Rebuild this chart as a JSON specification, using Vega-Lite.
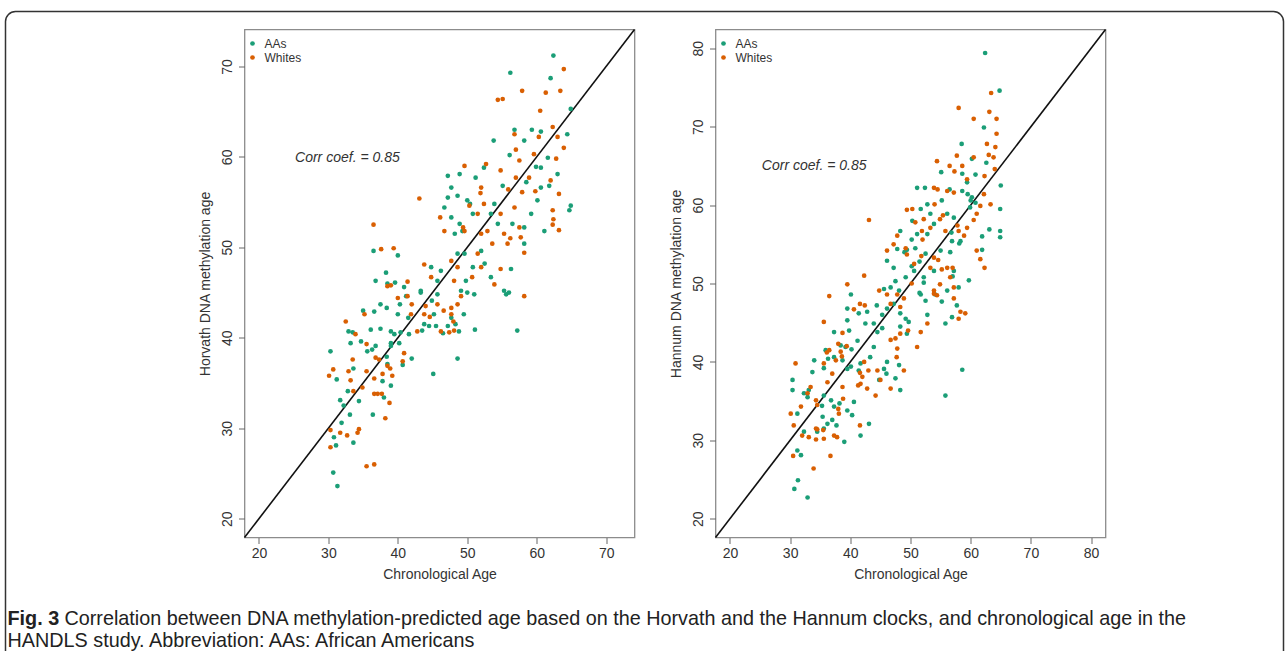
{
  "$schema": "https://vega.github.io/schema/vega-lite/v6.json",
  "background": "white",
  "padding": {"left": 4.5, "top": 10.5, "right": 4, "bottom": 0},
  "config": {
    "font": "Liberation Sans",
    "view": {"stroke": "#8c8c8c", "strokeWidth": 1.3},
    "axis": {"grid": false, "domain": false, "tickColor": "#666", "tickSize": 6, "labelFontSize": 14, "titleFontSize": 14, "labelColor": "#333", "titleColor": "#333", "titleFontWeight": "normal", "labelPadding": 3, "titlePadding": 7},
    "legend": {"orient": "none", "legendX": 2, "legendY": 8, "padding": 0, "labelFontSize": 12, "symbolSize": 22, "symbolType": "circle", "rowPadding": 2, "labelOffset": 6, "labelColor": "#333", "symbolStrokeWidth": 0}
  },
  "datasets": {
    "horvath": [
      {"g":"AAs","x":62.4,"y":71.2},{"g":"AAs","x":56.2,"y":69.3},{"g":"AAs","x":62.0,"y":68.7},{"g":"AAs","x":64.9,"y":65.3},{"g":"AAs","x":53.8,"y":61.8},{"g":"AAs","x":56.8,"y":63.0},{"g":"AAs","x":59.3,"y":63.0},{"g":"AAs","x":60.6,"y":62.8},{"g":"AAs","x":64.4,"y":62.5},{"g":"AAs","x":56.1,"y":60.2},{"g":"AAs","x":58.2,"y":61.8},{"g":"AAs","x":60.6,"y":58.8},{"g":"AAs","x":61.6,"y":59.9},{"g":"AAs","x":63.0,"y":58.1},{"g":"AAs","x":64.9,"y":54.6},{"g":"AAs","x":64.7,"y":54.1},{"g":"AAs","x":47.2,"y":57.9},{"g":"AAs","x":48.9,"y":58.1},{"g":"AAs","x":52.4,"y":58.8},{"g":"AAs","x":51.2,"y":57.7},{"g":"AAs","x":47.7,"y":56.6},{"g":"AAs","x":48.6,"y":55.7},{"g":"AAs","x":47.2,"y":55.5},{"g":"AAs","x":46.7,"y":54.4},{"g":"AAs","x":50.0,"y":55.2},{"g":"AAs","x":50.8,"y":53.7},{"g":"AAs","x":53.4,"y":53.7},{"g":"AAs","x":54.4,"y":52.6},{"g":"AAs","x":56.5,"y":52.6},{"g":"AAs","x":58.2,"y":52.2},{"g":"AAs","x":61.1,"y":51.8},{"g":"AAs","x":59.2,"y":53.7},{"g":"AAs","x":60.1,"y":55.2},{"g":"AAs","x":60.6,"y":56.6},{"g":"AAs","x":61.8,"y":56.8},{"g":"AAs","x":47.7,"y":53.3},{"g":"AAs","x":48.2,"y":51.5},{"g":"AAs","x":49.3,"y":51.8},{"g":"AAs","x":48.6,"y":49.3},{"g":"AAs","x":49.6,"y":49.3},{"g":"AAs","x":52.0,"y":49.6},{"g":"AAs","x":52.5,"y":48.2},{"g":"AAs","x":50.8,"y":47.8},{"g":"AAs","x":49.8,"y":46.3},{"g":"AAs","x":49.1,"y":45.2},{"g":"AAs","x":53.4,"y":46.7},{"g":"AAs","x":55.3,"y":45.2},{"g":"AAs","x":56.3,"y":47.6},{"g":"AAs","x":55.6,"y":44.8},{"g":"AAs","x":44.8,"y":47.8},{"g":"AAs","x":46.2,"y":47.4},{"g":"AAs","x":45.7,"y":46.3},{"g":"AAs","x":43.3,"y":45.2},{"g":"AAs","x":40.9,"y":45.6},{"g":"AAs","x":40.0,"y":49.1},{"g":"AAs","x":38.3,"y":47.2},{"g":"AAs","x":36.8,"y":46.3},{"g":"AAs","x":36.5,"y":49.6},
      {"g":"AAs","x":43.3,"y":45.0},{"g":"AAs","x":50.0,"y":45.0},{"g":"AAs","x":51.0,"y":44.8},{"g":"AAs","x":56.0,"y":45.0},{"g":"AAs","x":57.2,"y":40.8},{"g":"AAs","x":51.1,"y":40.9},{"g":"AAs","x":35.0,"y":43.0},{"g":"AAs","x":36.6,"y":42.9},{"g":"AAs","x":37.5,"y":43.7},{"g":"AAs","x":38.4,"y":43.3},{"g":"AAs","x":40.0,"y":42.6},{"g":"AAs","x":40.3,"y":43.7},{"g":"AAs","x":41.5,"y":42.2},{"g":"AAs","x":43.8,"y":41.5},{"g":"AAs","x":44.5,"y":41.3},{"g":"AAs","x":45.2,"y":42.6},{"g":"AAs","x":45.5,"y":41.3},{"g":"AAs","x":47.2,"y":41.3},{"g":"AAs","x":48.3,"y":41.5},{"g":"AAs","x":48.8,"y":40.7},{"g":"AAs","x":47.7,"y":42.2},{"g":"AAs","x":49.5,"y":42.6},{"g":"AAs","x":36.1,"y":40.9},{"g":"AAs","x":36.8,"y":39.1},{"g":"AAs","x":39.0,"y":40.7},{"g":"AAs","x":39.5,"y":40.4},{"g":"AAs","x":40.4,"y":40.6},{"g":"AAs","x":40.2,"y":39.4},{"g":"AAs","x":41.6,"y":40.4},{"g":"AAs","x":39.0,"y":39.4},{"g":"AAs","x":35.6,"y":38.5},{"g":"AAs","x":33.2,"y":39.4},{"g":"AAs","x":34.7,"y":39.6},{"g":"AAs","x":32.9,"y":40.7},{"g":"AAs","x":30.3,"y":38.5},{"g":"AAs","x":31.2,"y":35.4},{"g":"AAs","x":33.6,"y":36.6},{"g":"AAs","x":32.8,"y":34.1},{"g":"AAs","x":31.7,"y":33.1},{"g":"AAs","x":32.2,"y":32.5},{"g":"AAs","x":34.4,"y":33.0},{"g":"AAs","x":36.4,"y":31.5},{"g":"AAs","x":38.0,"y":33.4},{"g":"AAs","x":39.0,"y":34.7},{"g":"AAs","x":37.8,"y":35.2},{"g":"AAs","x":42.0,"y":37.7},{"g":"AAs","x":45.1,"y":36.0},{"g":"AAs","x":48.6,"y":37.7},{"g":"AAs","x":33.1,"y":31.5},{"g":"AAs","x":31.9,"y":30.6},{"g":"AAs","x":30.8,"y":29.0},{"g":"AAs","x":33.6,"y":28.4},{"g":"AAs","x":31.1,"y":28.1},{"g":"AAs","x":30.7,"y":25.1},{"g":"AAs","x":31.3,"y":23.6},{"g":"AAs","x":38.5,"y":37.1},{"g":"AAs","x":39.0,"y":39.1},{"g":"AAs","x":44.9,"y":44.1},{"g":"AAs","x":45.7,"y":44.8},
      {"g":"AAs","x":55.1,"y":56.8},{"g":"AAs","x":58.5,"y":57.2},{"g":"AAs","x":50.4,"y":54.8},{"g":"AAs","x":53.9,"y":54.8},{"g":"AAs","x":48.9,"y":52.6},{"g":"AAs","x":58.2,"y":50.4},
      {"g":"AAs","x":38.5,"y":46.0},{"g":"AAs","x":39.6,"y":46.1},{"g":"AAs","x":41.2,"y":44.6},{"g":"AAs","x":33.5,"y":40.6},{"g":"AAs","x":37.5,"y":41.0},{"g":"AAs","x":36.3,"y":38.7},{"g":"AAs","x":38.4,"y":37.9},{"g":"AAs","x":40.7,"y":37.0},{"g":"AAs","x":43.5,"y":40.8},{"g":"AAs","x":46.5,"y":40.5},{"g":"AAs","x":59.9,"y":58.9},
      {"g":"Whites","x":63.9,"y":69.7},{"g":"Whites","x":63.4,"y":67.3},{"g":"Whites","x":57.9,"y":67.3},{"g":"Whites","x":61.3,"y":67.1},{"g":"Whites","x":54.4,"y":66.3},{"g":"Whites","x":55.1,"y":66.4},{"g":"Whites","x":60.5,"y":65.1},{"g":"Whites","x":62.3,"y":63.3},{"g":"Whites","x":63.0,"y":62.2},{"g":"Whites","x":56.8,"y":62.5},{"g":"Whites","x":63.9,"y":61.0},{"g":"Whites","x":57.5,"y":59.6},{"g":"Whites","x":59.6,"y":60.3},{"g":"Whites","x":49.6,"y":59.0},{"g":"Whites","x":52.7,"y":59.2},{"g":"Whites","x":54.8,"y":58.5},{"g":"Whites","x":57.0,"y":57.7},{"g":"Whites","x":58.9,"y":57.7},{"g":"Whites","x":62.0,"y":57.4},{"g":"Whites","x":52.0,"y":56.6},{"g":"Whites","x":55.9,"y":56.4},{"g":"Whites","x":57.9,"y":56.1},{"g":"Whites","x":59.8,"y":56.2},{"g":"Whites","x":63.2,"y":55.9},{"g":"Whites","x":50.3,"y":54.6},{"g":"Whites","x":52.4,"y":54.8},{"g":"Whites","x":54.8,"y":53.7},{"g":"Whites","x":56.8,"y":54.4},{"g":"Whites","x":62.3,"y":54.1},{"g":"Whites","x":62.4,"y":53.1},{"g":"Whites","x":63.2,"y":51.9},{"g":"Whites","x":57.5,"y":52.2},{"g":"Whites","x":43.1,"y":55.4},{"g":"Whites","x":36.5,"y":52.5},{"g":"Whites","x":37.6,"y":49.8},{"g":"Whites","x":39.4,"y":49.9},{"g":"Whites","x":46.1,"y":53.3},{"g":"Whites","x":46.7,"y":51.8},{"g":"Whites","x":49.6,"y":51.8},{"g":"Whites","x":52.0,"y":51.5},{"g":"Whites","x":52.9,"y":51.8},{"g":"Whites","x":53.6,"y":50.4},{"g":"Whites","x":55.3,"y":51.5},{"g":"Whites","x":57.7,"y":51.1},{"g":"Whites","x":58.2,"y":49.4},{"g":"Whites","x":51.5,"y":49.3},{"g":"Whites","x":47.7,"y":48.5},{"g":"Whites","x":48.6,"y":47.8},{"g":"Whites","x":50.7,"y":46.7},{"g":"Whites","x":52.0,"y":47.8},{"g":"Whites","x":53.9,"y":45.9},{"g":"Whites","x":54.8,"y":47.6},{"g":"Whites","x":43.8,"y":48.1},{"g":"Whites","x":44.8,"y":46.7},{"g":"Whites","x":41.4,"y":46.2},{"g":"Whites","x":39.0,"y":45.8},{"g":"Whites","x":48.1,"y":46.3},{"g":"Whites","x":58.2,"y":44.6},
      {"g":"Whites","x":32.5,"y":41.8},{"g":"Whites","x":33.9,"y":40.4},{"g":"Whites","x":35.2,"y":42.6},{"g":"Whites","x":30.1,"y":35.8},{"g":"Whites","x":30.7,"y":36.5},{"g":"Whites","x":32.9,"y":36.3},{"g":"Whites","x":33.2,"y":35.3},{"g":"Whites","x":33.5,"y":37.6},{"g":"Whites","x":33.6,"y":34.1},{"g":"Whites","x":34.9,"y":34.5},{"g":"Whites","x":35.5,"y":36.3},{"g":"Whites","x":35.5,"y":39.3},{"g":"Whites","x":36.8,"y":37.8},{"g":"Whites","x":37.3,"y":37.6},{"g":"Whites","x":36.6,"y":33.8},{"g":"Whites","x":37.1,"y":33.8},{"g":"Whites","x":37.7,"y":33.8},{"g":"Whites","x":37.8,"y":36.0},{"g":"Whites","x":38.5,"y":36.9},{"g":"Whites","x":38.9,"y":36.6},{"g":"Whites","x":39.2,"y":35.8},{"g":"Whites","x":38.8,"y":32.8},{"g":"Whites","x":38.2,"y":31.1},{"g":"Whites","x":30.3,"y":29.8},{"g":"Whites","x":31.7,"y":29.5},{"g":"Whites","x":32.7,"y":29.2},{"g":"Whites","x":34.2,"y":29.5},{"g":"Whites","x":34.4,"y":29.9},{"g":"Whites","x":30.3,"y":27.9},{"g":"Whites","x":35.5,"y":25.8},{"g":"Whites","x":36.6,"y":26.0},{"g":"Whites","x":40.9,"y":38.3},{"g":"Whites","x":40.7,"y":37.4},{"g":"Whites","x":41.4,"y":44.6},{"g":"Whites","x":42.0,"y":43.7},{"g":"Whites","x":41.9,"y":42.6},{"g":"Whites","x":42.8,"y":40.7},{"g":"Whites","x":44.0,"y":43.5},{"g":"Whites","x":45.7,"y":43.7},{"g":"Whites","x":46.2,"y":40.7},{"g":"Whites","x":47.4,"y":40.6},{"g":"Whites","x":47.7,"y":43.3},{"g":"Whites","x":47.7,"y":42.6},{"g":"Whites","x":48.6,"y":43.7},{"g":"Whites","x":49.1,"y":44.6},{"g":"Whites","x":48.1,"y":40.8},{"g":"Whites","x":43.8,"y":42.6},{"g":"Whites","x":40.0,"y":44.4},{"g":"Whites","x":38.5,"y":45.7},
      {"g":"Whites","x":51.9,"y":56.0},{"g":"Whites","x":51.5,"y":53.7},{"g":"Whites","x":49.4,"y":52.2},{"g":"Whites","x":56.2,"y":51.0},{"g":"Whites","x":55.8,"y":50.4},{"g":"Whites","x":62.3,"y":52.5},
      {"g":"Whites","x":36.6,"y":35.5},{"g":"Whites","x":44.6,"y":42.3},{"g":"Whites","x":46.6,"y":43.0},{"g":"Whites","x":48.0,"y":41.8},{"g":"Whites","x":60.3,"y":62.2},{"g":"Whites","x":57.0,"y":60.8},{"g":"Whites","x":62.8,"y":59.8}
    ],
    "hannum": [
      {"g":"AAs","x":62.4,"y":79.4},{"g":"AAs","x":64.8,"y":74.6},{"g":"AAs","x":62.2,"y":69.9},{"g":"AAs","x":58.5,"y":67.8},{"g":"AAs","x":62.6,"y":65.4},{"g":"AAs","x":65.0,"y":62.5},{"g":"AAs","x":60.2,"y":65.9},{"g":"AAs","x":58.6,"y":64.0},{"g":"AAs","x":59.4,"y":62.9},{"g":"AAs","x":60.8,"y":63.9},{"g":"AAs","x":51.1,"y":62.2},{"g":"AAs","x":52.4,"y":62.2},{"g":"AAs","x":55.1,"y":64.2},{"g":"AAs","x":58.6,"y":61.8},{"g":"AAs","x":60.2,"y":61.0},{"g":"AAs","x":60.8,"y":60.3},{"g":"AAs","x":59.9,"y":59.7},{"g":"AAs","x":64.9,"y":59.5},{"g":"AAs","x":64.9,"y":56.7},{"g":"AAs","x":64.9,"y":55.9},{"g":"AAs","x":63.1,"y":56.9},{"g":"AAs","x":61.9,"y":56.0},{"g":"AAs","x":61.9,"y":54.3},{"g":"AAs","x":55.2,"y":60.6},{"g":"AAs","x":51.7,"y":59.5},{"g":"AAs","x":52.8,"y":60.1},{"g":"AAs","x":50.3,"y":58.0},{"g":"AAs","x":52.8,"y":56.3},{"g":"AAs","x":51.1,"y":56.3},{"g":"AAs","x":53.9,"y":57.6},{"g":"AAs","x":56.1,"y":58.9},{"g":"AAs","x":57.2,"y":58.4},{"g":"AAs","x":56.9,"y":55.4},{"g":"AAs","x":58.3,"y":55.4},{"g":"AAs","x":48.3,"y":56.7},{"g":"AAs","x":47.8,"y":54.4},{"g":"AAs","x":49.4,"y":54.3},{"g":"AAs","x":50.8,"y":54.5},{"g":"AAs","x":46.1,"y":52.9},{"g":"AAs","x":47.2,"y":52.0},{"g":"AAs","x":49.2,"y":50.8},{"g":"AAs","x":50.6,"y":51.6},{"g":"AAs","x":52.2,"y":50.8},{"g":"AAs","x":53.9,"y":51.6},{"g":"AAs","x":57.2,"y":51.6},{"g":"AAs","x":59.7,"y":50.4},{"g":"AAs","x":56.1,"y":49.1},{"g":"AAs","x":58.0,"y":49.5},{"g":"AAs","x":47.5,"y":50.3},{"g":"AAs","x":46.7,"y":49.5},{"g":"AAs","x":48.1,"y":49.1},{"g":"AAs","x":45.6,"y":49.3},{"g":"AAs","x":40.1,"y":48.6},{"g":"AAs","x":51.7,"y":48.6},{"g":"AAs","x":54.1,"y":48.6},
      {"g":"AAs","x":39.5,"y":46.8},{"g":"AAs","x":39.5,"y":45.3},{"g":"AAs","x":39.8,"y":44.0},{"g":"AAs","x":41.4,"y":46.2},{"g":"AAs","x":42.8,"y":46.4},{"g":"AAs","x":42.5,"y":44.9},{"g":"AAs","x":43.9,"y":44.9},{"g":"AAs","x":44.5,"y":43.8},{"g":"AAs","x":45.3,"y":46.0},{"g":"AAs","x":45.3,"y":44.3},{"g":"AAs","x":46.1,"y":46.8},{"g":"AAs","x":47.2,"y":47.4},{"g":"AAs","x":48.3,"y":46.2},{"g":"AAs","x":49.2,"y":45.5},{"g":"AAs","x":49.7,"y":45.1},{"g":"AAs","x":48.3,"y":44.5},{"g":"AAs","x":49.4,"y":43.6},{"g":"AAs","x":51.5,"y":48.8},{"g":"AAs","x":52.8,"y":46.0},{"g":"AAs","x":55.2,"y":47.7},{"g":"AAs","x":55.8,"y":44.9},{"g":"AAs","x":56.9,"y":45.7},{"g":"AAs","x":57.7,"y":47.2},{"g":"AAs","x":58.6,"y":39.0},{"g":"AAs","x":55.8,"y":35.7},{"g":"AAs","x":37.3,"y":43.8},{"g":"AAs","x":35.9,"y":41.5},{"g":"AAs","x":37.3,"y":40.6},{"g":"AAs","x":38.4,"y":42.1},{"g":"AAs","x":39.2,"y":41.9},{"g":"AAs","x":38.7,"y":40.2},{"g":"AAs","x":39.5,"y":39.1},{"g":"AAs","x":40.1,"y":39.4},{"g":"AAs","x":41.4,"y":38.9},{"g":"AAs","x":41.7,"y":39.8},{"g":"AAs","x":43.3,"y":40.6},{"g":"AAs","x":43.9,"y":41.9},{"g":"AAs","x":45.6,"y":39.1},{"g":"AAs","x":46.1,"y":40.0},{"g":"AAs","x":48.1,"y":39.6},{"g":"AAs","x":48.3,"y":36.4},{"g":"AAs","x":44.8,"y":37.7},{"g":"AAs","x":34.0,"y":40.2},{"g":"AAs","x":35.6,"y":39.2},{"g":"AAs","x":30.4,"y":36.4},{"g":"AAs","x":32.3,"y":36.0},{"g":"AAs","x":33.1,"y":36.4},{"g":"AAs","x":35.6,"y":35.7},{"g":"AAs","x":36.8,"y":35.1},{"g":"AAs","x":37.3,"y":34.3},{"g":"AAs","x":38.2,"y":34.7},{"g":"AAs","x":39.5,"y":33.8},{"g":"AAs","x":39.0,"y":29.8},{"g":"AAs","x":40.3,"y":33.2},{"g":"AAs","x":41.7,"y":30.6},{"g":"AAs","x":43.1,"y":32.1},{"g":"AAs","x":35.4,"y":33.0},{"g":"AAs","x":36.2,"y":32.1},{"g":"AAs","x":37.0,"y":32.6},{"g":"AAs","x":35.6,"y":31.5},{"g":"AAs","x":34.5,"y":31.1},{"g":"AAs","x":32.3,"y":31.1},{"g":"AAs","x":31.2,"y":33.4},{"g":"AAs","x":32.9,"y":35.5},{"g":"AAs","x":33.7,"y":38.7},{"g":"AAs","x":30.4,"y":37.7},{"g":"AAs","x":31.2,"y":28.7},{"g":"AAs","x":31.8,"y":28.1},{"g":"AAs","x":31.3,"y":24.9},{"g":"AAs","x":30.7,"y":23.8},{"g":"AAs","x":32.9,"y":22.7},
      {"g":"AAs","x":56.5,"y":62.0},{"g":"AAs","x":60.0,"y":60.6},{"g":"AAs","x":59.5,"y":61.4},{"g":"AAs","x":53.3,"y":58.9},{"g":"AAs","x":50.2,"y":55.6},{"g":"AAs","x":56.8,"y":56.5},{"g":"AAs","x":58.1,"y":55.1},{"g":"AAs","x":49.0,"y":54.0},{"g":"AAs","x":51.5,"y":52.8},{"g":"AAs","x":52.5,"y":53.8},{"g":"AAs","x":50.2,"y":52.2},{"g":"AAs","x":55.0,"y":54.2},{"g":"AAs","x":56.6,"y":54.0},{"g":"AAs","x":57.0,"y":50.9},{"g":"AAs","x":52.2,"y":50.1},{"g":"AAs","x":44.4,"y":47.2},{"g":"AAs","x":41.2,"y":42.7},{"g":"AAs","x":40.2,"y":41.6},{"g":"AAs","x":36.3,"y":40.4},{"g":"AAs","x":46.0,"y":38.5},{"g":"AAs","x":47.5,"y":37.9},{"g":"AAs","x":52.5,"y":47.8},{"g":"AAs","x":35.3,"y":34.4},{"g":"AAs","x":37.7,"y":31.9},{"g":"AAs","x":40.6,"y":34.9},
      {"g":"Whites","x":63.4,"y":74.3},{"g":"Whites","x":58.0,"y":72.4},{"g":"Whites","x":63.1,"y":71.9},{"g":"Whites","x":60.5,"y":71.0},{"g":"Whites","x":64.3,"y":71.0},{"g":"Whites","x":64.3,"y":69.1},{"g":"Whites","x":62.7,"y":67.8},{"g":"Whites","x":64.1,"y":67.4},{"g":"Whites","x":63.0,"y":66.4},{"g":"Whites","x":63.8,"y":66.1},{"g":"Whites","x":57.7,"y":66.3},{"g":"Whites","x":54.4,"y":65.6},{"g":"Whites","x":56.5,"y":65.0},{"g":"Whites","x":58.6,"y":65.0},{"g":"Whites","x":60.5,"y":66.1},{"g":"Whites","x":62.3,"y":63.7},{"g":"Whites","x":64.0,"y":64.6},{"g":"Whites","x":54.5,"y":62.0},{"g":"Whites","x":56.1,"y":61.8},{"g":"Whites","x":57.2,"y":61.6},{"g":"Whites","x":54.0,"y":60.1},{"g":"Whites","x":49.4,"y":59.4},{"g":"Whites","x":50.3,"y":59.5},{"g":"Whites","x":62.2,"y":61.4},{"g":"Whites","x":63.3,"y":60.1},{"g":"Whites","x":61.0,"y":58.9},{"g":"Whites","x":60.5,"y":58.1},{"g":"Whites","x":43.1,"y":58.1},{"g":"Whites","x":52.2,"y":58.2},{"g":"Whites","x":54.9,"y":58.2},{"g":"Whites","x":53.3,"y":57.1},{"g":"Whites","x":55.8,"y":56.7},{"g":"Whites","x":58.0,"y":56.7},{"g":"Whites","x":59.4,"y":57.1},{"g":"Whites","x":51.9,"y":56.7},{"g":"Whites","x":47.8,"y":56.1},{"g":"Whites","x":61.0,"y":54.2},{"g":"Whites","x":61.6,"y":53.1},{"g":"Whites","x":62.3,"y":52.0},{"g":"Whites","x":47.2,"y":55.0},{"g":"Whites","x":49.4,"y":53.7},{"g":"Whites","x":50.6,"y":52.5},{"g":"Whites","x":46.1,"y":54.2},{"g":"Whites","x":53.9,"y":53.3},{"g":"Whites","x":53.3,"y":52.0},{"g":"Whites","x":56.1,"y":52.0},{"g":"Whites","x":54.9,"y":49.9},{"g":"Whites","x":56.6,"y":50.8},{"g":"Whites","x":53.9,"y":49.1},{"g":"Whites","x":57.2,"y":49.5},{"g":"Whites","x":42.3,"y":51.0},{"g":"Whites","x":39.5,"y":49.9},{"g":"Whites","x":44.8,"y":49.1},{"g":"Whites","x":46.1,"y":48.6},{"g":"Whites","x":36.5,"y":48.4},{"g":"Whites","x":47.8,"y":48.6},
      {"g":"Whites","x":35.6,"y":45.1},{"g":"Whites","x":41.6,"y":47.4},{"g":"Whites","x":42.4,"y":47.2},{"g":"Whites","x":40.6,"y":46.7},{"g":"Whites","x":48.9,"y":48.1},{"g":"Whites","x":48.3,"y":47.0},{"g":"Whites","x":46.7,"y":42.8},{"g":"Whites","x":47.5,"y":43.0},{"g":"Whites","x":48.3,"y":43.6},{"g":"Whites","x":47.8,"y":41.7},{"g":"Whites","x":47.7,"y":40.6},{"g":"Whites","x":48.9,"y":38.9},{"g":"Whites","x":46.7,"y":36.6},{"g":"Whites","x":44.2,"y":35.7},{"g":"Whites","x":44.5,"y":38.9},{"g":"Whites","x":45.0,"y":37.7},{"g":"Whites","x":42.3,"y":40.0},{"g":"Whites","x":42.0,"y":38.1},{"g":"Whites","x":41.7,"y":37.2},{"g":"Whites","x":42.8,"y":36.6},{"g":"Whites","x":41.6,"y":31.9},{"g":"Whites","x":51.7,"y":43.8},{"g":"Whites","x":51.1,"y":41.9},{"g":"Whites","x":53.9,"y":48.7},{"g":"Whites","x":54.4,"y":48.5},{"g":"Whites","x":57.2,"y":48.1},{"g":"Whites","x":58.3,"y":46.4},{"g":"Whites","x":59.1,"y":46.2},{"g":"Whites","x":58.0,"y":45.5},{"g":"Whites","x":38.0,"y":42.3},{"g":"Whites","x":38.4,"y":41.3},{"g":"Whites","x":37.6,"y":40.2},{"g":"Whites","x":36.5,"y":41.5},{"g":"Whites","x":35.6,"y":39.8},{"g":"Whites","x":37.0,"y":38.5},{"g":"Whites","x":36.2,"y":37.4},{"g":"Whites","x":38.7,"y":36.8},{"g":"Whites","x":38.8,"y":35.3},{"g":"Whites","x":38.1,"y":33.4},{"g":"Whites","x":34.5,"y":34.5},{"g":"Whites","x":31.8,"y":34.3},{"g":"Whites","x":30.9,"y":39.8},{"g":"Whites","x":30.1,"y":33.4},{"g":"Whites","x":30.6,"y":31.9},{"g":"Whites","x":32.9,"y":36.0},{"g":"Whites","x":33.4,"y":36.8},{"g":"Whites","x":34.3,"y":31.5},{"g":"Whites","x":34.5,"y":31.4},{"g":"Whites","x":35.5,"y":31.3},{"g":"Whites","x":34.3,"y":30.1},{"g":"Whites","x":35.6,"y":30.2},{"g":"Whites","x":32.0,"y":30.6},{"g":"Whites","x":33.1,"y":30.4},{"g":"Whites","x":37.3,"y":30.6},{"g":"Whites","x":37.8,"y":30.4},{"g":"Whites","x":30.5,"y":28.0},{"g":"Whites","x":36.7,"y":28.0},{"g":"Whites","x":33.9,"y":26.4},
      {"g":"Whites","x":57.3,"y":64.3},{"g":"Whites","x":59.4,"y":63.3},{"g":"Whites","x":53.9,"y":62.2},{"g":"Whites","x":55.4,"y":58.7},{"g":"Whites","x":61.6,"y":59.9},{"g":"Whites","x":50.8,"y":57.8},{"g":"Whites","x":52.0,"y":55.6},{"g":"Whites","x":58.9,"y":56.1},{"g":"Whites","x":57.8,"y":57.4},{"g":"Whites","x":49.2,"y":54.5},{"g":"Whites","x":51.8,"y":53.5},{"g":"Whites","x":54.6,"y":53.0},{"g":"Whites","x":55.2,"y":51.8},{"g":"Whites","x":57.0,"y":52.0},{"g":"Whites","x":50.2,"y":50.0},{"g":"Whites","x":46.7,"y":47.4},{"g":"Whites","x":38.7,"y":43.7},{"g":"Whites","x":39.4,"y":42.0},{"g":"Whites","x":36.1,"y":41.2},{"g":"Whites","x":38.6,"y":40.7},{"g":"Whites","x":41.6,"y":38.6},{"g":"Whites","x":41.3,"y":37.0},{"g":"Whites","x":43.0,"y":38.9},{"g":"Whites","x":49.6,"y":44.0},{"g":"Whites","x":52.8,"y":44.9},{"g":"Whites","x":34.3,"y":35.1},{"g":"Whites","x":38.0,"y":34.0}
    ]
  },
  "bounds": "flush",
  "spacing": 0,
  "vconcat": [
    {
      "bounds": "flush",
      "spacing": 0,
      "vconcat": [
        {
          "width": 10,
          "height": 18,
          "data": {"values": []},
          "mark": {"type": "point"},
          "encoding": {},
          "view": {"stroke": null}
        },
        {
          "bounds": "flush",
          "spacing": 578,
          "vconcat": [
            {
              "bounds": "flush",
              "spacing": 81,
              "resolve": {"legend": {"color": "independent"}},
              "hconcat": [
                {
                  "width": 158,
                  "height": 10,
                  "data": {"values": []},
                  "mark": {"type": "point"},
                  "encoding": {},
                  "view": {"stroke": null}
                },
                {
                  "width": 390,
                  "height": 508,
                  "layer": [
                    {
                      "data": {"values": [{"a": 17.92, "b": 74.08}]},
                      "mark": {"type": "rule", "color": "#111", "strokeWidth": 1.6},
                      "encoding": {
                        "x": {"field": "a", "type": "quantitative", "scale": {"domain": [17.92, 74.08], "nice": false, "zero": false}, "axis": {"values": [20, 30, 40, 50, 60, 70], "title": "Chronological Age"}},
                        "y": {"field": "a", "type": "quantitative", "scale": {"domain": [17.92, 74.08], "nice": false, "zero": false}, "axis": {"values": [20, 30, 40, 50, 60, 70], "title": "Horvath DNA methylation age", "labelAngle": -90, "labelAlign": "center", "labelBaseline": "bottom", "labelPadding": 4, "titlePadding": 8}},
                        "x2": {"field": "b"},
                        "y2": {"field": "b"}
                      }
                    },
                    {
                      "data": {"name": "horvath"},
                      "mark": {"type": "circle", "size": 22, "opacity": 1},
                      "encoding": {
                        "x": {"field": "x", "type": "quantitative"},
                        "y": {"field": "y", "type": "quantitative"},
                        "color": {"field": "g", "type": "nominal", "scale": {"domain": ["AAs", "Whites"], "range": ["#1b9e77", "#d95f02"]}, "legend": {"title": null}}
                      }
                    },
                    {
                      "data": {"values": [{"t": "Corr coef. = 0.85", "x": 25.2, "y": 59.9}]},
                      "mark": {"type": "text", "align": "left", "baseline": "middle", "fontStyle": "italic", "fontSize": 14, "color": "#333"},
                      "encoding": {
                        "x": {"field": "x", "type": "quantitative"},
                        "y": {"field": "y", "type": "quantitative"},
                        "text": {"field": "t"}
                      }
                    }
                  ]
                },
                {
                  "width": 390,
                  "height": 508,
                  "layer": [
                    {
                      "data": {"values": [{"a": 17.6, "b": 82.4}]},
                      "mark": {"type": "rule", "color": "#111", "strokeWidth": 1.6},
                      "encoding": {
                        "x": {"field": "a", "type": "quantitative", "scale": {"domain": [17.6, 82.4], "nice": false, "zero": false}, "axis": {"values": [20, 30, 40, 50, 60, 70, 80], "title": "Chronological Age"}},
                        "y": {"field": "a", "type": "quantitative", "scale": {"domain": [17.6, 82.4], "nice": false, "zero": false}, "axis": {"values": [20, 30, 40, 50, 60, 70, 80], "title": "Hannum DNA methylation age", "labelAngle": -90, "labelAlign": "center", "labelBaseline": "bottom", "labelPadding": 4, "titlePadding": 8}},
                        "x2": {"field": "b"},
                        "y2": {"field": "b"}
                      }
                    },
                    {
                      "data": {"name": "hannum"},
                      "mark": {"type": "circle", "size": 22, "opacity": 1},
                      "encoding": {
                        "x": {"field": "x", "type": "quantitative"},
                        "y": {"field": "y", "type": "quantitative"},
                        "color": {"field": "g", "type": "nominal", "scale": {"domain": ["AAs", "Whites"], "range": ["#1b9e77", "#d95f02"]}, "legend": {"title": null}}
                      }
                    },
                    {
                      "data": {"values": [{"t": "Corr coef. = 0.85", "x": 25.3, "y": 65.0}]},
                      "mark": {"type": "text", "align": "left", "baseline": "middle", "fontStyle": "italic", "fontSize": 14, "color": "#333"},
                      "encoding": {
                        "x": {"field": "x", "type": "quantitative"},
                        "y": {"field": "y", "type": "quantitative"},
                        "text": {"field": "t"}
                      }
                    }
                  ]
                }
              ]
            },
            {
              "width": 861,
              "height": 44,
              "view": {"stroke": null},
              "layer": [
                {
                  "data": {"values": [{"line": 1, "t": "Fig. 3"}]},
                  "mark": {"type": "text", "align": "left", "baseline": "middle", "fontSize": 19.8, "fontWeight": "bold", "color": "#222", "dx": 2},
                  "encoding": {
                    "x": {"value": 0},
                    "y": {"field": "line", "type": "ordinal", "axis": null, "scale": {"domain": [1, 2]}},
                    "text": {"field": "t"}
                  }
                },
                {
                  "data": {"values": [{"line": 1, "t": "Correlation between DNA methylation-predicted age based on the Horvath and the Hannum clocks, and chronological age in the"}]},
                  "mark": {"type": "text", "align": "left", "baseline": "middle", "fontSize": 19.8, "color": "#222", "dx": 59},
                  "encoding": {
                    "x": {"value": 0},
                    "y": {"field": "line", "type": "ordinal", "axis": null, "scale": {"domain": [1, 2]}},
                    "text": {"field": "t"}
                  }
                },
                {
                  "data": {"values": [{"line": 2, "t": "HANDLS study. Abbreviation: AAs: African Americans"}]},
                  "mark": {"type": "text", "align": "left", "baseline": "middle", "fontSize": 19.8, "color": "#222", "dx": 2},
                  "encoding": {
                    "x": {"value": 0},
                    "y": {"field": "line", "type": "ordinal", "axis": null, "scale": {"domain": [1, 2]}},
                    "text": {"field": "t"}
                  }
                }
              ]
            }
          ]
        }
      ]
    },
    {
      "width": 1278,
      "height": 660,
      "data": {"values": []},
      "mark": {"type": "point"},
      "encoding": {},
      "view": {"stroke": "#333", "strokeWidth": 1.5, "cornerRadius": 10, "fill": null}
    }
  ]
}
